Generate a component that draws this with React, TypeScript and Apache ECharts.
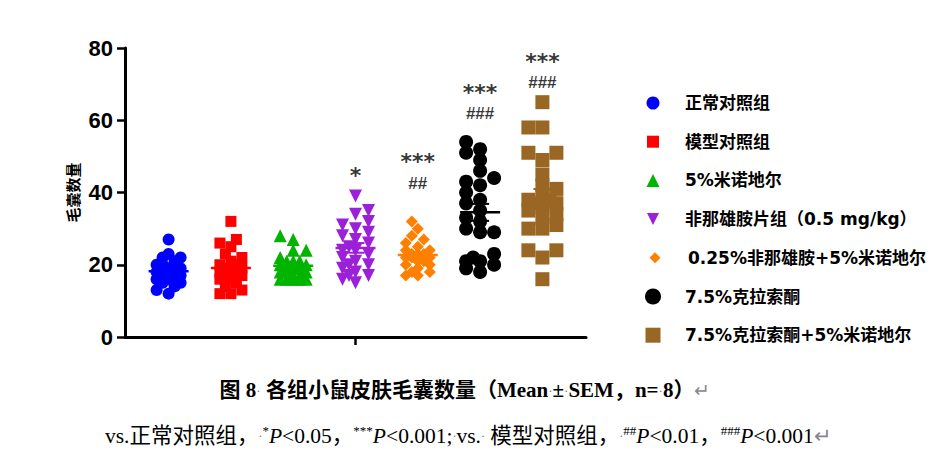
import React, { useEffect, useRef } from 'react';
import * as echarts from 'echarts';

// ---------- data ----------
const groupNames = [
  '正常对照组',
  '模型对照组',
  '5%米诺地尔',
  '非那雄胺片组（0.5 mg/kg）',
  '0.25%非那雄胺+5%米诺地尔',
  '7.5%克拉索酮',
  '7.5%克拉索酮+5%米诺地尔',
];
const normalControl = [27, 23, 22, 22, 21, 20, 20, 19, 19, 19, 18, 18, 18, 18, 17, 17, 17, 16, 16, 15, 15, 14, 13, 12];
const modelControl = [32, 27, 26, 25, 23, 22, 21, 20, 20, 19, 19, 19, 18, 18, 18, 17, 17, 16, 16, 15, 14, 13, 12, 12];
const minoxidil5 = [28, 27, 24, 24, 22, 21, 21, 21, 20, 20, 20, 19, 19, 19, 18, 18, 18, 17, 17, 16, 16, 16, 16, 16];
const finasterideTablet = [39, 35, 34, 32, 31, 30, 29, 28, 27, 26, 25, 24, 24, 23, 22, 21, 20, 20, 19, 18, 17, 17, 16, 15];
const finasterideMinoxidil = [32, 30, 28, 27, 26, 25, 24, 24, 23, 23, 23, 22, 22, 22, 22, 21, 21, 20, 20, 19, 18, 18, 17, 17];
const clascoterone = [54, 52, 51, 49, 46, 44, 43, 42, 40, 38, 37, 35, 33, 32, 30, 29, 29, 23, 22, 21, 21, 20, 19, 18];
const clascoteroneMinoxidil = [65, 58, 58, 51, 51, 49, 45, 42, 41, 39, 38, 38, 37, 37, 36, 35, 34, 33, 31, 30, 30, 24, 24, 22, 16];
const groupValues = [
  normalControl,
  modelControl,
  minoxidil5,
  finasterideTablet,
  finasterideMinoxidil,
  clascoterone,
  clascoteroneMinoxidil,
];

const yMin = 0;
const yMax = 80;
const yInterval = 20;
const yAxisName = '毛囊数量';

// significance annotations (group index, text, y value)
const sigGroupIndex = [3, 4, 5, 6];
const sigStarText = ['*', '***', '***', '***'];
const sigStarValue = [44.8, 48.6, 67.8, 76.2];
const sigHashText = ['', '##', '###', '###'];
const sigHashValue = [0, 42.4, 62.0, 70.4];

// ---------- styles ----------
const COLORS = ['#0000ff', '#ff0000', '#00b400', '#9b20d8', '#ff8000', '#000000', '#9a6624'];
const SYMBOLS = ['circle', 'rect', 'triangle', 'triangle', 'diamond', 'circle', 'rect'];
const ROTATES = [0, 0, 0, 180, 0, 0, 0];
const SIZES = [12, 11, 13, 13, 12, 14, 14];
const LEGEND_SIZES = [13, 12, 13, 12, 11, 16, 15];

const GRID = { left: 125, top: 48, width: 461, height: 289 };
const X_MIN = -0.7;
const X_MAX = 6.7;

function swarmOffsets(values: number[], sizePx: number): number[] {
  const pxPerY = GRID.height / (yMax - yMin);
  const pxPerX = GRID.width / (X_MAX - X_MIN);
  const order = values.map((_, i) => i).sort((a, b) => values[a] - values[b]);
  const placed: { x: number; y: number }[] = [];
  const offsets = new Array(values.length).fill(0);
  const minD = sizePx * 0.75;
  const step = sizePx * 0.5;
  let flip = 1;
  for (const idx of order) {
    const y = values[idx] * pxPerY;
    let best = 0;
    let bestD = -1;
    for (let k = 0; k <= 4; k++) {
      const cand = k === 0 ? 0 : (k % 2 === 1 ? flip : -flip) * Math.ceil(k / 2) * step;
      let dmin = Infinity;
      for (const p of placed) dmin = Math.min(dmin, Math.hypot(p.x - cand, p.y - y));
      if (dmin >= minD) {
        best = cand;
        bestD = dmin;
        break;
      }
      if (dmin > bestD) {
        bestD = dmin;
        best = cand;
      }
    }
    flip = -flip;
    placed.push({ x: best, y });
    offsets[idx] = best / pxPerX;
  }
  return offsets;
}

function meanSem(vals: number[]) {
  const n = vals.length;
  const m = vals.reduce((a, b) => a + b, 0) / n;
  const sd = Math.sqrt(vals.reduce((a, b) => a + (b - m) * (b - m), 0) / (n - 1));
  return [m, sd / Math.sqrt(n)];
}

function legendGraphics() {
  const cx = 653;
  const tx = 685;
  const top = 103;
  const stepY = 38.7;
  const els: any[] = [];
  groupNames.forEach((name, i) => {
    const cy = top + i * stepY;
    const s = LEGEND_SIZES[i];
    const h = s / 2;
    const fill = COLORS[i];
    const sym = SYMBOLS[i];
    if (sym === 'circle') {
      els.push({ type: 'circle', shape: { cx, cy, r: h }, style: { fill } });
    } else if (sym === 'rect') {
      els.push({ type: 'rect', shape: { x: cx - h, y: cy - h, width: s, height: s }, style: { fill } });
    } else if (sym === 'triangle' && ROTATES[i] === 0) {
      els.push({ type: 'polygon', shape: { points: [[cx, cy - h], [cx + h, cy + h], [cx - h, cy + h]] }, style: { fill } });
    } else if (sym === 'triangle') {
      els.push({ type: 'polygon', shape: { points: [[cx - h, cy - h], [cx + h, cy - h], [cx, cy + h]] }, style: { fill } });
    } else {
      els.push({ type: 'polygon', shape: { points: [[cx + 2, cy - h], [cx + 2 + h, cy], [cx + 2, cy + h], [cx + 2 - h, cy]] }, style: { fill } });
    }
    els.push({
      type: 'text',
      x: tx + (sym === 'diamond' ? 3 : 0),
      y: cy,
      style: {
        text: name,
        fill: '#000',
        fontSize: 17,
        fontWeight: 'bold',
        fontFamily: '"DejaVu Sans", "Noto Sans CJK SC", sans-serif',
        align: 'left',
        textAlign: 'left',
        verticalAlign: 'middle',
        textVerticalAlign: 'middle',
      },
    });
  });
  return els;
}

function captionGraphics() {
  const serif = '"Liberation Serif", "Noto Sans CJK SC", serif';
  const line1 = {
    type: 'text',
    x: 465,
    y: 390,
    style: {
      text: '{b|图 8}{g|·}{b| 各组小鼠皮肤毛囊数量（Mean}{g|·}{b|±}{g|·}{b|SEM，n=}{g|·}{b|8）}{r|↵}',
      align: 'center',
      textAlign: 'center',
      verticalAlign: 'middle',
      textVerticalAlign: 'middle',
      rich: {
        b: { fontSize: 21, fontWeight: 'bold', fontFamily: serif, fill: '#000', color: '#000' },
        g: { fontSize: 13, fontFamily: serif, fill: '#777', color: '#777' },
        r: { fontSize: 19, fontFamily: serif, fill: '#888', color: '#888' },
      },
    },
  };
  const line2 = {
    type: 'text',
    x: 105,
    y: 436,
    style: {
      text:
        '{n|vs.正常对照组，}{g|·}{s|*}{i|P}{n|<0.05，}{s|***}{i|P}{n|<0.001;}{g|·}{n|vs.}{g|·}{n| 模型对照组，}{g|·}{s|##}{i|P}{n|<0.01，}{s|###}{i|P}{n|<0.001}{r|↵}',
      align: 'left',
      textAlign: 'left',
      verticalAlign: 'middle',
      textVerticalAlign: 'middle',
      rich: {
        n: { fontSize: 21.5, fontFamily: serif, fill: '#000', color: '#000', lineHeight: 25 },
        i: { fontSize: 21.5, fontStyle: 'italic', fontFamily: serif, fill: '#000', color: '#000', lineHeight: 25 },
        s: { fontSize: 13, fontFamily: serif, fill: '#000', color: '#000', verticalAlign: 'top' },
        g: { fontSize: 12, fontFamily: serif, fill: '#777', color: '#777' },
        r: { fontSize: 21, fontFamily: serif, fill: '#888', color: '#888' },
      },
    },
  };
  return [line1, line2];
}

export default function App() {
  const ref = useRef<HTMLDivElement>(null);
  useEffect(() => {
    document.body.style.margin = '0';
    if (!ref.current) return;
    const chart = echarts.init(ref.current, undefined, { renderer: 'svg' });

    const scatterSeries = groupValues.map((vals, i) => {
      const offs = swarmOffsets(vals, SIZES[i]);
      return {
        type: 'scatter',
        name: groupNames[i],
        symbol: SYMBOLS[i],
        symbolRotate: ROTATES[i],
        symbolSize: SIZES[i],
        itemStyle: { color: COLORS[i], opacity: 1 },
        data: vals.map((v, j) => [i + offs[j], v]),
        z: 2,
      };
    });

    const meanData = groupValues.map((vals, i) => {
      const [m, s] = meanSem(vals);
      return [i, m, s];
    });

    const meanSeries = {
      type: 'custom',
      name: 'mean',
      encode: { x: 0, y: 1 },
      data: meanData,
      z: 5,
      renderItem: (params: any, api: any) => {
        const i = api.value(0);
        const m = api.value(1);
        const s = api.value(2);
        const c = api.coord([i, m]);
        const t = api.coord([i, m + s]);
        const b = api.coord([i, m - s]);
        const color = COLORS[params.dataIndex];
        const st = { stroke: color, lineWidth: 2 };
        return {
          type: 'group',
          children: [
            { type: 'line', shape: { x1: c[0] - 20, y1: c[1], x2: c[0] + 20, y2: c[1] }, style: { stroke: color, lineWidth: 2.5 } },
            { type: 'line', shape: { x1: c[0], y1: t[1], x2: c[0], y2: b[1] }, style: st },
            { type: 'line', shape: { x1: c[0] - 9, y1: t[1], x2: c[0] + 9, y2: t[1] }, style: st },
            { type: 'line', shape: { x1: c[0] - 9, y1: b[1], x2: c[0] + 9, y2: b[1] }, style: st },
          ],
        };
      },
    };

    const starSeries = {
      type: 'scatter',
      name: 'stars',
      symbolSize: 0,
      z: 6,
      data: sigGroupIndex.map((g, k) => ({ name: sigStarText[k], value: [g, sigStarValue[k]] })),
      label: {
        show: true,
        position: 'inside',
        formatter: '{b}',
        color: '#000',
        fontSize: 22,
        fontWeight: 'bold',
        lineHeight: 12,
        fontFamily: '"DejaVu Sans", sans-serif',
      },
    };
    const hashSeries = {
      type: 'scatter',
      name: 'hashes',
      symbolSize: 0,
      z: 6,
      data: sigGroupIndex
        .map((g, k) => ({ name: sigHashText[k], value: [g, sigHashValue[k]] }))
        .filter((d) => d.name !== ''),
      label: {
        show: true,
        position: 'inside',
        formatter: '{b}',
        color: '#000',
        fontSize: 17,
        fontWeight: 'bold',
        lineHeight: 13,
        fontFamily: '"Liberation Sans", Arial, sans-serif',
      },
    };

    const option: any = {
      animation: false,
      backgroundColor: '#fff',
      grid: { left: GRID.left, top: GRID.top, width: GRID.width, height: GRID.height, containLabel: false },
      xAxis: {
        type: 'value',
        min: X_MIN,
        max: X_MAX,
        axisLine: { show: true, onZero: false, lineStyle: { color: '#000', width: 3 } },
        axisTick: { show: true, customValues: [3], length: 8, lineStyle: { color: '#000', width: 2.5 } },
        axisLabel: { show: false },
        splitLine: { show: false },
      },
      yAxis: {
        type: 'value',
        min: yMin,
        max: yMax,
        interval: yInterval,
        name: yAxisName,
        nameLocation: 'middle',
        nameGap: 45,
        nameRotate: 90,
        nameTextStyle: {
          fontSize: 15,
          fontWeight: 'bold',
          color: '#000',
          fontFamily: '"Noto Sans CJK SC", sans-serif',
        },
        axisLine: { show: true, onZero: false, lineStyle: { color: '#000', width: 3 } },
        axisTick: { show: true, length: 8, lineStyle: { color: '#000', width: 2.5 } },
        axisLabel: {
          margin: 12,
          fontSize: 22,
          fontWeight: 'bold',
          color: '#000',
          fontFamily: '"Liberation Sans", Arial, sans-serif',
        },
        splitLine: { show: false },
      },
      series: [...scatterSeries, meanSeries, starSeries, hashSeries],
      graphic: [...legendGraphics(), ...captionGraphics()],
    };
    chart.setOption(option);
    return () => chart.dispose();
  }, []);
  return <div ref={ref} style={{ width: 934, height: 456 }} />;
}
